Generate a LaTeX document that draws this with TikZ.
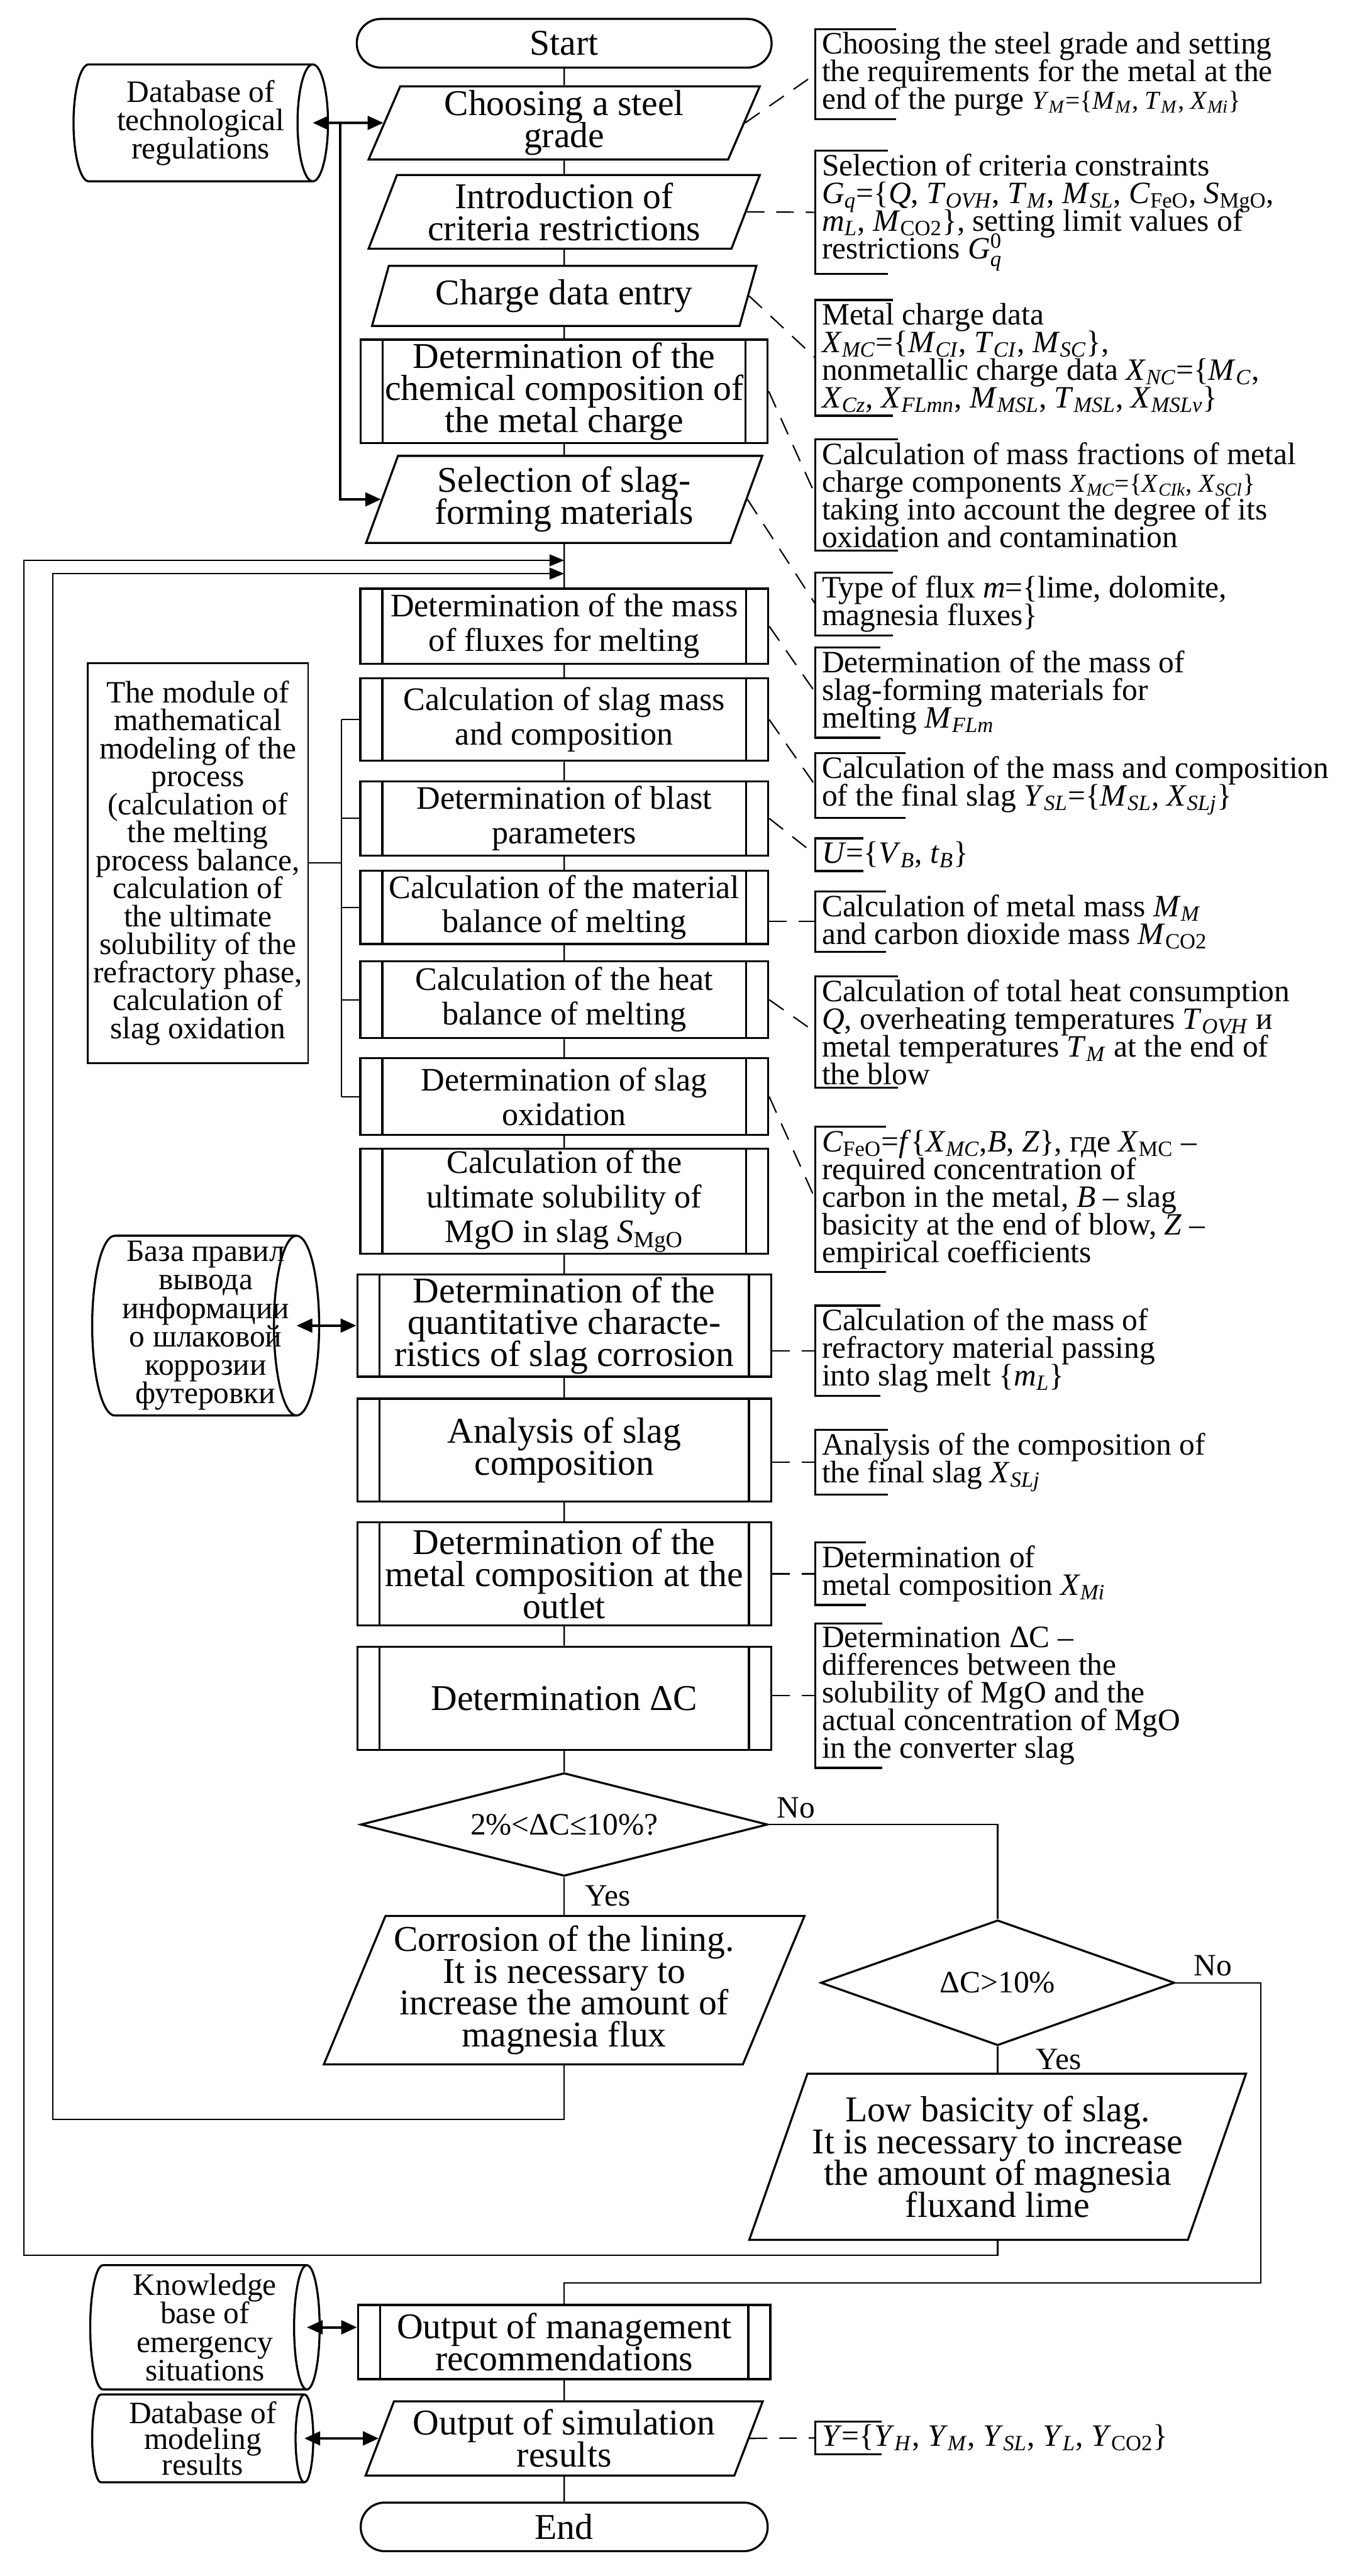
\documentclass[tikz,border=0pt]{standalone}
\usepackage{fontspec}
\usepackage{amsmath}
\setmainfont{Liberation Serif}
\usetikzlibrary{arrows.meta,shapes.geometric,calc}
\lineskiplimit=-50pt
\newcommand{\vi}[2]{\textit{#1}$_{\text{\textit{#2}}}$}
\newcommand{\vr}[2]{\textit{#1}$_{\text{#2}}$}

\begin{document}
\begin{tikzpicture}[
    line width=0.8pt,
    shp/.style={draw, line width=1.2pt, align=center, inner xsep=1mm, inner ysep=0.3mm,
                font=\fontsize{21}{18.5}\selectfont},
    term/.style={shp, rectangle, rounded corners=4.9mm, minimum width=8.44cm,
                 minimum height=0.99cm},
    io/.style={shp, trapezium, trapezium left angle=65, trapezium right angle=115,
               trapezium stretches body, minimum width=7.96cm},
    pp/.style={shp, rectangle, minimum width=8.42cm, minimum height=2.09cm,
               path picture={\draw[line width=1.2pt]
                 ([xshift=4.5mm]path picture bounding box.north west) --
                 ([xshift=4.5mm]path picture bounding box.south west)
                 ([xshift=-4.5mm]path picture bounding box.north east) --
                 ([xshift=-4.5mm]path picture bounding box.south east);}},
    mp/.style={pp, minimum width=8.3cm, font=\fontsize{19}{20}\selectfont},
    dec/.style={shp, diamond, font=\fontsize{18}{16}\selectfont},
    db/.style={rectangle, align=center, inner sep=0.5mm,
               font=\fontsize{18}{16.5}\selectfont},
    note/.style={anchor=west, align=left, inner xsep=1.2mm, inner ysep=0.5mm,
                 font=\fontsize{18}{16}\selectfont},
    lbl/.style={font=\fontsize{18}{16}\selectfont},
    lead/.style={dash pattern=on 3.6mm off 2.4mm},
    arr/.style={-{Triangle[length=3mm,width=2.4mm]}},
    arrb/.style={-{Triangle[length=3.2mm,width=2.8mm]}, line width=1.4pt},
    dbl/.style={{Triangle[length=3.2mm,width=2.8mm]}-{Triangle[length=3.2mm,width=2.8mm]},
                line width=1.4pt}
  ]
  \useasboundingbox (0,0) rectangle (27.5,-52.41);

  % main column
  \node[term] (start) at (11.48,-0.88) {Start};
  \node[io, minimum height=1.49cm] (par1) at (11.48,-2.50) {Choosing a steel\\grade};
  \node[io, minimum height=1.50cm] (par2) at (11.48,-4.31) {Introduction of\\criteria restrictions};
  \node[io, minimum height=1.22cm, minimum width=7.82cm] (par3) at (11.48,-6.02) {Charge data entry};
  \node[pp, minimum width=8.28cm, minimum height=2.10cm] (pp1) at (11.48,-7.96)
    {Determination of the\\chemical composition of\\the metal charge};
  \node[io, minimum height=1.77cm, minimum width=8.06cm] (par4) at (11.48,-10.16)
    {Selection of slag-\\forming materials};
  \node[mp, minimum height=1.53cm] (box1) at (11.48,-12.74) {Determination of the mass\\of fluxes for melting};
  \node[mp, minimum height=1.68cm] (box2) at (11.48,-14.64) {Calculation of slag mass\\and composition};
  \node[mp, minimum height=1.51cm] (box3) at (11.48,-16.65) {Determination of blast\\parameters};
  \node[mp, minimum height=1.49cm] (box4) at (11.48,-18.46) {Calculation of the material\\balance of melting};
  \node[mp, minimum height=1.56cm] (box5) at (11.48,-20.34) {Calculation of the heat\\balance of melting};
  \node[mp, minimum height=1.56cm] (box6) at (11.48,-22.31) {Determination of slag\\oxidation};
  \node[mp, minimum height=2.06cm] (box7) at (11.48,-24.44)
    {Calculation of the\\ultimate solubility of\\MgO in slag \vr{S}{MgO}};
  \node[pp, minimum height=2.08cm] (box8) at (11.48,-26.97)
    {Determination of the\\quantitative characte-\\ristics of slag corrosion};
  \node[pp] (box9) at (11.48,-29.50) {Analysis of slag\\composition};
  \node[pp, minimum height=2.10cm] (box10) at (11.48,-32.02)
    {Determination of the\\metal composition at the\\outlet};
  \node[pp, minimum height=2.10cm] (box11) at (11.48,-34.55) {Determination ΔC};
  \node[dec, aspect=4, minimum width=8.28cm, minimum height=2.10cm] (dec1) at (11.48,-37.12)
    {2\%<ΔC≤10\%?};
  \node[io, minimum height=3.02cm, minimum width=9.78cm] (cor) at (11.48,-40.49)
    {Corrosion of the lining.\\It is necessary to\\increase the amount of\\magnesia flux};
  \node[dec, aspect=2.8, minimum width=7.2cm, minimum height=2.55cm] (dec2) at (20.30,-40.34)
    {ΔC>10\%};
  \node[io, minimum height=3.38cm, minimum width=9.66cm] (low) at (20.30,-43.88)
    {Low basicity of slag.\\It is necessary to increase\\the amount of magnesia\\fluxand lime};
  \node[pp, minimum width=8.39cm, minimum height=1.51cm] (out1) at (11.48,-47.65)
    {Output of management\\recommendations};
  \node[io, minimum height=1.51cm, minimum width=8.08cm] (out2) at (11.48,-49.61)
    {Output of simulation\\results};
  \node[term, minimum width=8.28cm] (stop) at (11.48,-51.41) {End};

  % left side
  \node[db, minimum width=4.53cm, minimum height=2.35cm] (db1) at (4.085,-2.50)
    {Database of\\technological\\regulations};
  \node[db, minimum width=3.67cm, minimum height=3.63cm] (db2) at (4.185,-26.97)
    {База правил\\вывода\\информации\\о шлаковой\\коррозии\\футеровки};
  \node[db, minimum width=4.12cm, minimum height=2.50cm] (db3) at (4.17,-47.35)
    {Knowledge\\base of\\emergency\\situations};
  \node[db, minimum width=4.11cm, minimum height=1.76cm, font=\fontsize{18}{15}\selectfont]
    (db4) at (4.125,-49.61) {Database of\\modeling\\results};
  \foreach \d/\r in {db1/0.31, db2/0.46, db3/0.26, db4/0.18}
    \draw[line width=1.2pt] let \p1=($(\d.north)-(\d.south)$) in
      (\d.north west) -- (\d.north east)
      arc[start angle=90, end angle=-90, x radius=\r cm, y radius=0.5*\y1]
      -- (\d.south west)
      arc[start angle=270, end angle=90, x radius=\r cm, y radius=0.5*\y1]
      (\d.south east)
      arc[start angle=270, end angle=90, x radius=\r cm, y radius=0.5*\y1];
  \node[draw, line width=0.9pt, align=center, minimum width=4.39cm, minimum height=8.14cm,
        font=\fontsize{18}{16.2}\selectfont] (mod) at (4.025,-17.56)
    {The module of\\mathematical\\modeling of the\\process\\(calculation of\\the melting\\process balance,\\calculation of\\the ultimate\\solubility of the\\refractory phase,\\calculation of\\slag oxidation};

  % notes
  \node[note] (ann1) at (16.59,-1.51) {Choosing the steel grade and setting\\the requirements for the metal at the\\end of the purge {\fontsize{15}{15}\selectfont\vi{Y}{M}=\{\vi{M}{M}, \vi{T}{M}, \vi{X}{Mi}\}}};
  \node[note] (ann2) at (16.59,-4.32) {Selection of criteria constraints\\\vi{G}{q}=\{\textit{Q}, \vi{T}{OVH}, \vi{T}{M}, \vi{M}{SL}, \vr{C}{FeO}, \vr{S}{MgO},\\\vi{m}{L}, \vr{M}{CO2}\}, setting limit values of\\restrictions \textit{G}$_{\text{\textit{q}}}^{\text{0}}$};
  \node[note] (ann3) at (16.59,-7.28) {Metal charge data\\\vi{X}{MC}=\{\vi{M}{CI}, \vi{T}{CI}, \vi{M}{SC}\},\\nonmetallic charge data \vi{X}{NC}=\{\vi{M}{C},\\\vi{X}{Cz}, \vi{X}{FLmn}, \vi{M}{MSL}, \vi{T}{MSL}, \vi{X}{MSLv}\}};
  \node[note] (ann4) at (16.59,-10.07) {Calculation of mass fractions of metal\\charge components {\fontsize{15}{15}\selectfont\vi{X}{MC}=\{\vi{X}{CIk}, \vi{X}{SCl}\}}\\taking into account the degree of its\\oxidation and contamination};
  \node[note] (ann5) at (16.59,-12.29) {Type of flux \textit{m}=\{lime, dolomite,\\magnesia fluxes\}};
  \node[note] (ann6) at (16.59,-14.09) {Determination of the mass of\\slag-forming materials for\\melting \vi{M}{FLm}};
  \node[note] (ann7) at (16.59,-15.98) {Calculation of the mass and composition\\of the final slag \vi{Y}{SL}=\{\vi{M}{SL}, \vi{X}{SLj}\}};
  \node[note] (ann8) at (16.59,-17.39) {\textit{U}=\{\vi{V}{B}, \vi{t}{B}\}};
  \node[note] (ann9) at (16.59,-18.75) {Calculation of metal mass \vi{M}{M}\\and carbon dioxide mass \vr{M}{CO2}};
  \node[note] (ann10) at (16.59,-21.00) {Calculation of total heat consumption\\\textit{Q}, overheating temperatures \vi{T}{OVH} и\\metal temperatures \vi{T}{M} at the end of\\the blow};
  \node[note] (ann11) at (16.59,-24.40) {\vr{C}{FeO}=\textit{f}\{\vi{X}{MC},\textit{B}, \textit{Z}\}, где \vr{X}{MC} –\\required concentration of\\carbon in the metal, \textit{B} – slag\\basicity at the end of blow, \textit{Z} –\\empirical coefficients};
  \node[note] (ann12) at (16.59,-27.48) {Calculation of the mass of\\refractory material passing\\into slag melt \{\vi{m}{L}\}};
  \node[note] (ann13) at (16.59,-29.75) {Analysis of the composition of\\the final slag \vi{X}{SLj}};
  \node[note] (ann14) at (16.59,-32.02) {Determination of\\metal composition \vi{X}{Mi}};
  \node[note] (ann15) at (16.59,-34.50) {Determination ΔC –\\differences between the\\solubility of MgO and the\\actual concentration of MgO\\in the converter slag};
  \node[note] (ann16) at (16.59,-49.60) {\textit{Y}=\{\vi{Y}{H}, \vi{Y}{M}, \vi{Y}{SL}, \vi{Y}{L}, \vr{Y}{CO2}\}};

  \foreach \n/\l in {ann1/1.64, ann2/1.48, ann3/1.58, ann4/1.68, ann5/1.58, ann6/1.32,
                     ann7/1.84, ann8/0.98, ann9/1.44, ann10/1.68, ann11/1.44, ann12/1.32,
                     ann13/1.48, ann14/1.03, ann15/1.36, ann16/1.35}
    \draw[line width=1.2pt] ([xshift=\l cm]\n.north west) -- (\n.north west)
      -- (\n.south west) -- ([xshift=\l cm]\n.south west);

  \foreach \a/\b in {par1/ann1, par2/ann2, par3/ann3, pp1/ann4, par4/ann5, box1/ann6,
                     box2/ann7, box3/ann8, box5/ann10, box6/ann11, out2/ann16}
    \draw[lead] (\a.east) -- (\b.west);
  \foreach \a/\b in {box4/ann9, box8/ann12, box9/ann13, box10/ann14, box11/ann15}
    \draw[lead] (\b.west -| \a.east) -- (\b.west);

  % connectors
  \coordinate (in1) at (11.48,-11.40);
  \coordinate (in2) at (11.48,-11.67);
  \coordinate (l1) at (0.49,-45.88);
  \coordinate (l2) at (1.07,-43.12);
  \coordinate (r1) at (25.65,-46.45);
  \coordinate (bus) at (6.95,0);
  \coordinate (j1) at (6.92,-2.50);

  \draw (start) -- (par1) -- (par2) -- (par3) -- (pp1) -- (par4) -- (box1) -- (box2)
    -- (box3) -- (box4) -- (box5) -- (box6) -- (box7) -- (box8) -- (box9) -- (box10)
    -- (box11) -- (dec1);
  \draw (dec1.south) -- node[lbl, right, xshift=3mm] {Yes} (cor.north -| cor.center);
  \draw (dec1.east) -| node[lbl, pos=0.06, above] {No} (dec2.north);
  \draw (dec2.south) -- node[lbl, right, xshift=6.5mm] {Yes} (low.north -| low.center);
  \draw (dec2.east) -| node[lbl, pos=0.22, above] {No} (r1) -| (out1.north);
  \draw[arr] (low.south -| low.center) |- (l1) |- (in1);
  \draw[arr] (cor.south -| cor.center) |- (l2) |- (in2);
  \draw (out1) -- (out2) -- (stop);

  \draw (mod.east) -- (mod.east -| bus);
  \draw (box2.west -| bus) -- (box6.west -| bus);
  \foreach \b in {box2,box3,box4,box5,box6}
    \draw (\b.west -| bus) -- (\b.west);

  \draw[dbl] (db1.east) -- (par1.west);
  \draw[arrb] (j1) |- (par4.west);
  \draw[dbl] (db2.east) -- (box8.west);
  \draw[dbl] (db3.east) -- (db3.east -| out1.west);
  \draw[dbl] (db4.east) -- (out2.west);
\end{tikzpicture}
\end{document}
